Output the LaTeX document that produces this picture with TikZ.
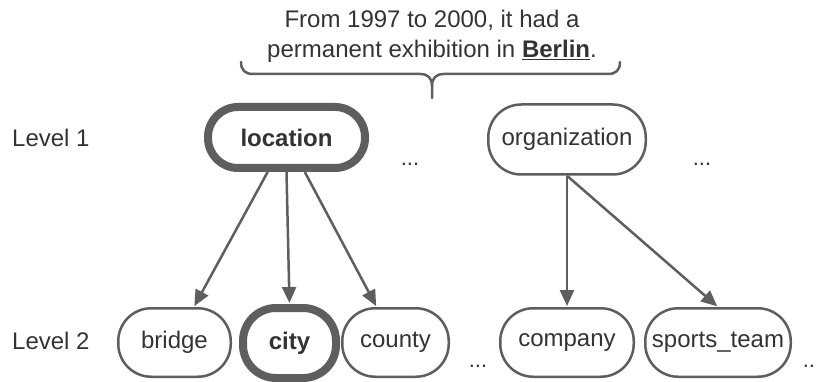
\documentclass[tikz,border=0pt]{standalone}
\usepackage{fontspec}
\setmainfont{Liberation Sans}
\usetikzlibrary{arrows.meta}
\definecolor{lc}{HTML}{5E5E5E}
\definecolor{tc}{HTML}{333333}
\tikzset{
  pill/.style={draw=lc, line width=2.5pt, fill=white, rounded corners=33pt, inner sep=0pt, text=tc, font=\fontsize{24}{28}\selectfont},
  pillbold/.style={pill, line width=8pt, rounded corners=30pt, font=\fontsize{24}{28}\selectfont\bfseries},
  conn/.style={draw=lc, line width=2.5pt, -{Triangle[length=16pt,width=14pt]}, shorten >=1pt},
  lbl/.style={text=tc, font=\fontsize{24}{28}\selectfont, inner sep=0pt},
  dots/.style={text=tc, font=\fontsize{22}{26}\selectfont, inner sep=0pt}
}
\begin{document}
\begin{tikzpicture}[x=1pt,y=-1pt]
\useasboundingbox (0,0) rectangle (816,382);
% sentence
\node[lbl, align=center] (sent) at (432,36) {From 1997 to 2000, it had a\\[2pt]permanent exhibition in \underline{\textbf{Berlin}}.};
% brace
\coordinate (bl) at (241,62);
\coordinate (br) at (620,62);
\coordinate (btip) at (432,98);
\draw[lc, line width=2.5pt, line cap=round, line join=round]
  (bl) .. controls (241,70) and (245,74) .. (253,74) -- (420,74)
  .. controls (428,74) and (432,78) .. (432,86) -- (btip);
\draw[lc, line width=2.5pt, line cap=round, line join=round]
  (br) .. controls (620,70) and (616,74) .. (608,74) -- (444,74)
  .. controls (436,74) and (432,78) .. (432,86);
% level labels
\node[lbl, anchor=west] (lv1) at (12,138) {Level 1};
\node[lbl, anchor=west] (lv2) at (12,341) {Level 2};
% level 1 nodes
\node[pillbold, minimum width=157pt, minimum height=61pt] (location) at (286.5,137.5) {location};
\node[pill, minimum width=157.5pt, minimum height=70pt] (organization) at (567,139.5) {organization};
% level 2 nodes
\node[pill, minimum width=112.5pt, minimum height=68.5pt] (bridge) at (174.5,342.5) {bridge};
\node[pillbold, minimum width=93pt, minimum height=70pt, rounded corners=33pt] (city) at (289.5,343) {city};
\node[pill, minimum width=106.5pt, minimum height=68.5pt] (county) at (395.5,342.5) {county};
\node[pill, minimum width=133.5pt, minimum height=68.5pt] (company) at (567,342.5) {company};
\node[pill, minimum width=145.5pt, minimum height=68.5pt] (sports) at (718,342.5) {sports\_team};
% dots
\node[dots] (d1) at (410,164) {...};
\node[dots] (d2) at (702,164) {...};
\node[dots] (d3) at (478,366) {...};
\node[dots] (d4) at (812,366) {...};
% connectors
\draw[conn] (location) -- (bridge);
\draw[conn] (location.south) -- (city.north);
\draw[conn] (location) -- (county);
\draw[conn] (organization.south) -- (company.north);
\draw[conn] (organization.south) -- (sports.north);
\end{tikzpicture}
\end{document}
